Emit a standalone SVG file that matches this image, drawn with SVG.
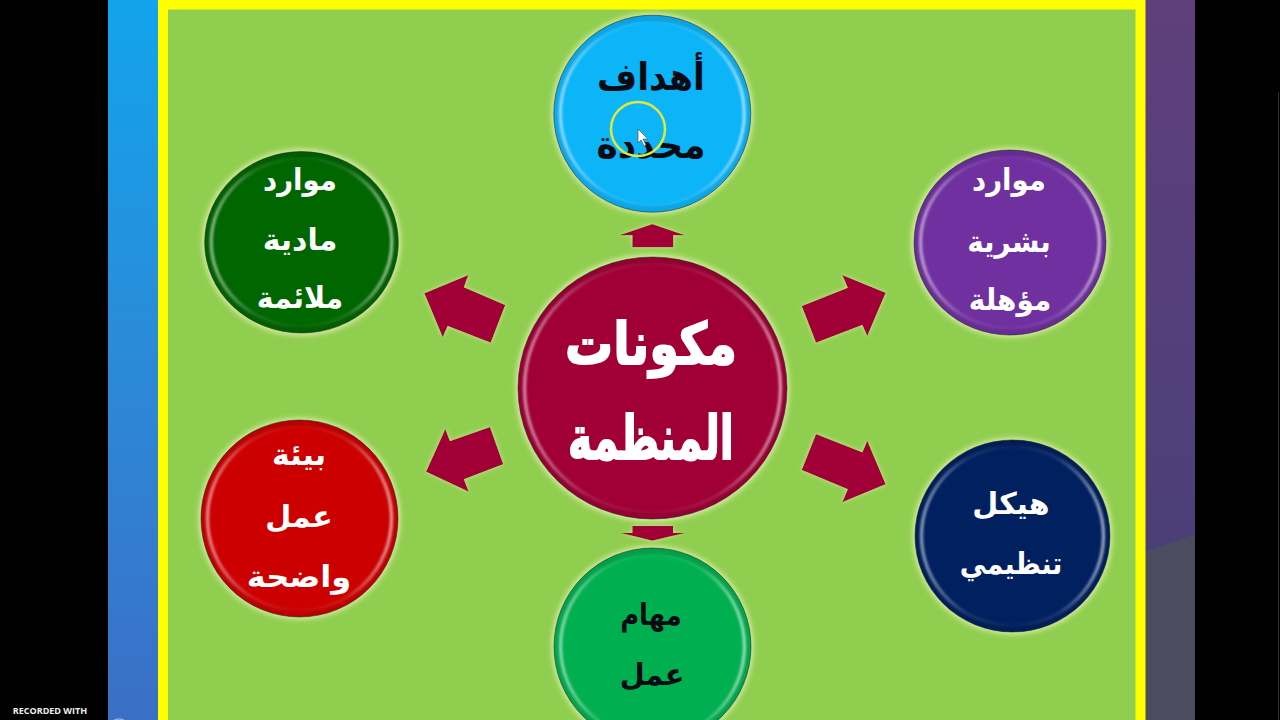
<svg xmlns="http://www.w3.org/2000/svg" width="1280" height="720" viewBox="0 0 1280 720">
<defs>
<linearGradient id="lp" x1="0" y1="0" x2="0" y2="1"><stop offset="0" stop-color="#12a4ec"/><stop offset="0.5" stop-color="#2b8ad8"/><stop offset="1" stop-color="#3b6fc6"/></linearGradient>
<linearGradient id="rp" x1="0" y1="0" x2="0" y2="1"><stop offset="0" stop-color="#5f3f7c"/><stop offset="0.6" stop-color="#50407a"/><stop offset="1" stop-color="#443c74"/></linearGradient>
<linearGradient id="ring" x1="0" y1="0" x2="1" y2="0"><stop offset="0" stop-color="#fff" stop-opacity=".5"/><stop offset=".25" stop-color="#fff" stop-opacity=".1"/><stop offset=".5" stop-color="#fff" stop-opacity=".02"/><stop offset=".75" stop-color="#fff" stop-opacity=".1"/><stop offset="1" stop-color="#fff" stop-opacity=".55"/></linearGradient>
<linearGradient id="edge" x1="0" y1="0" x2="0" y2="1"><stop offset="0" stop-color="#000" stop-opacity=".1"/><stop offset=".4" stop-color="#000" stop-opacity=".05"/><stop offset="1" stop-color="#000" stop-opacity=".08"/></linearGradient>
<filter id="glow" x="-15%" y="-15%" width="130%" height="130%"><feGaussianBlur stdDeviation="2.500"/></filter>
<filter id="soft" x="-10%" y="-10%" width="120%" height="120%"><feGaussianBlur stdDeviation=".8"/></filter>
<filter id="arrglow" x="-20%" y="-20%" width="140%" height="140%"><feDropShadow dx="0" dy="0" stdDeviation="2" flood-color="#eef2b0" flood-opacity=".7"/></filter>
</defs>
<style>
.halo{fill:#f4f6c0;opacity:.7;filter:url(#glow)}
.rim{stroke:#1c2430;stroke-width:1;stroke-opacity:.55}
.edge{fill:none;stroke:url(#edge);stroke-width:6}
.hl{fill:none;stroke:url(#ring);stroke-width:3.500;filter:url(#soft)}
.arr{fill:#a00035}
text{font-family:"DejaVu Sans","Noto Sans",sans-serif;font-weight:700;text-anchor:middle;direction:rtl}
.w{fill:#fff}.k{fill:#0a0a14}
.big{font-size:64px;stroke:#fff;stroke-width:2}
.mid{font-size:38px}
.sm{font-size:30px}
</style>
<rect width="1280" height="720" fill="#000"/>
<rect x="108" width="50" height="720" fill="url(#lp)"/>
<rect x="1145" width="50" height="720" fill="url(#rp)"/>
<polygon points="1145,720 1145,552 1195,534 1195,720" fill="#4c4c60"/>
<rect x="1278" y="92" width="1" height="628" fill="#2e2e2e"/>
<rect x="163" y="4.500" width="977.500" height="730" fill="#90ce50" stroke="#ffff00" stroke-width="10"/>

<g id="connectors" class="arr" filter="url(#arrglow)">
<polygon points="652.300,224 685,235.300 673.300,235.300 673.300,247.300 632.300,247.300 632.300,235.300 619.300,235.300"/>
<polygon points="652.300,540.700 685,533 673,533 673,526 632.300,526 632.300,533 620.700,533"/>
<polygon points="801.700,306 816,342.700 862.300,325 867.300,336 885.700,292.700 842.300,275 847.700,287.700"/>
<polygon points="816,434 801.700,470 847.700,489.300 842.300,502.300 885.700,484.300 867.300,440.700 862.300,452.300"/>
<polygon points="424.300,293.300 468.300,275 464,287.300 505.300,305 490.700,342.700 447.700,326 442.700,337.300"/>
<polygon points="426,471.700 445.300,429 450,441 490,427 503.300,464.300 464,479.300 468.700,491.700"/>
</g>

<g id="node-center">
<ellipse class="halo" cx="652.500" cy="388" rx="137" ry="134"/>
<ellipse class="rim" cx="652.500" cy="388" rx="134.500" ry="131" fill="#a00035"/>
<ellipse class="edge" cx="652.500" cy="388" rx="131.500" ry="128"/>
<ellipse class="hl" cx="652.500" cy="388" rx="128" ry="124.500"/>
<text class="w big" transform="translate(651,364) scale(.75,.9)">مكونات</text>
<text class="w big" transform="translate(651,459) scale(.64,.95)">المنظمة</text>
</g>
<g id="node-top">
<ellipse class="halo" cx="652.300" cy="113.700" rx="101" ry="101"/>
<ellipse class="rim" cx="652.300" cy="113.700" rx="98.500" ry="98.500" fill="#0cb4f8"/>
<ellipse class="edge" cx="652.300" cy="113.700" rx="95.500" ry="95.500"/>
<ellipse class="hl" cx="652.300" cy="113.700" rx="92" ry="92"/>
<text class="k mid" transform="translate(651,90) scale(.91,1)">أهداف</text>
<text class="k mid" transform="translate(651,158) scale(.95,1)">محددة</text>
<circle cx="638" cy="129" r="27" fill="none" stroke="#dfe83c" stroke-width="2.500"/>
<polygon points="638,129 638,143 641,140 644,146 646,145 643,139 648,139" fill="#fff" stroke="#555" stroke-width=".7"/>
</g>
<g id="node-right-top">
<ellipse class="halo" cx="1010" cy="242.500" rx="99" ry="95"/>
<ellipse class="rim" cx="1010" cy="242.500" rx="96" ry="92.500" fill="#7030a0"/>
<ellipse class="edge" cx="1010" cy="242.500" rx="93" ry="89.500"/>
<ellipse class="hl" cx="1010" cy="242.500" rx="89.500" ry="86"/>
<text class="w sm" transform="translate(1009,190) scale(.92,1)">موارد</text>
<text class="w sm" transform="translate(1009,252) scale(.93,1)">بشرية</text>
<text class="w sm" transform="translate(1010,310) scale(.93,1)">مؤهلة</text>
</g>
<g id="node-right-bottom">
<ellipse class="halo" cx="1012.500" cy="536" rx="100" ry="98.500"/>
<ellipse class="rim" cx="1012.500" cy="536" rx="97.500" ry="96" fill="#002060"/>
<ellipse class="edge" cx="1012.500" cy="536" rx="94.500" ry="93"/>
<ellipse class="hl" cx="1012.500" cy="536" rx="91" ry="89.500"/>
<text class="w sm" transform="translate(1011,514)">هيكل</text>
<text class="w sm" transform="translate(1011,574) scale(.89,1)">تنظيمي</text>
</g>
<g id="node-bottom">
<ellipse class="halo" cx="652.500" cy="646.500" rx="101" ry="101"/>
<ellipse class="rim" cx="652.500" cy="646.500" rx="98.500" ry="98.500" fill="#00b050"/>
<ellipse class="edge" cx="652.500" cy="646.500" rx="95.500" ry="95.500"/>
<ellipse class="hl" cx="652.500" cy="646.500" rx="92" ry="92"/>
<text class="k sm" transform="translate(651,625) scale(.86,1)">مهام</text>
<text class="k sm" transform="translate(652,685) scale(.96,1)">عمل</text>
</g>
<g id="node-left-bottom">
<ellipse class="halo" cx="299.500" cy="518.500" rx="101" ry="101"/>
<ellipse class="rim" cx="299.500" cy="518.500" rx="98.500" ry="98.500" fill="#cc0000"/>
<ellipse class="edge" cx="299.500" cy="518.500" rx="95.500" ry="95.500"/>
<ellipse class="hl" cx="299.500" cy="518.500" rx="92" ry="92"/>
<text class="w sm" transform="translate(299,465)">بيئة</text>
<text class="w sm" transform="translate(299,527)">عمل</text>
<text class="w sm" transform="translate(299,587) scale(1.070,1)">واضحة</text>
</g>
<g id="node-left-top">
<ellipse class="halo" cx="301.500" cy="242.300" rx="99.500" ry="93.500"/>
<ellipse class="rim" cx="301.500" cy="242.300" rx="96.800" ry="90.700" fill="#006600"/>
<ellipse class="edge" cx="301.500" cy="242.300" rx="93.800" ry="87.700"/>
<ellipse class="hl" cx="301.500" cy="242.300" rx="90.300" ry="84.200"/>
<text class="w sm" transform="translate(300,190) scale(.92,1)">موارد</text>
<text class="w sm" transform="translate(300,250)">مادية</text>
<text class="w sm" transform="translate(300,308) scale(.95,1)">ملائمة</text>
</g>
<text x="50" y="714" font-size="9" fill="#f0f0f0" style="font-family:'Open Sans','Liberation Sans',sans-serif;direction:ltr">RECORDED WITH</text>
<circle cx="119" cy="730" r="11" fill="none" stroke="#8fb0d8" stroke-width="1.500"/>
</svg>
